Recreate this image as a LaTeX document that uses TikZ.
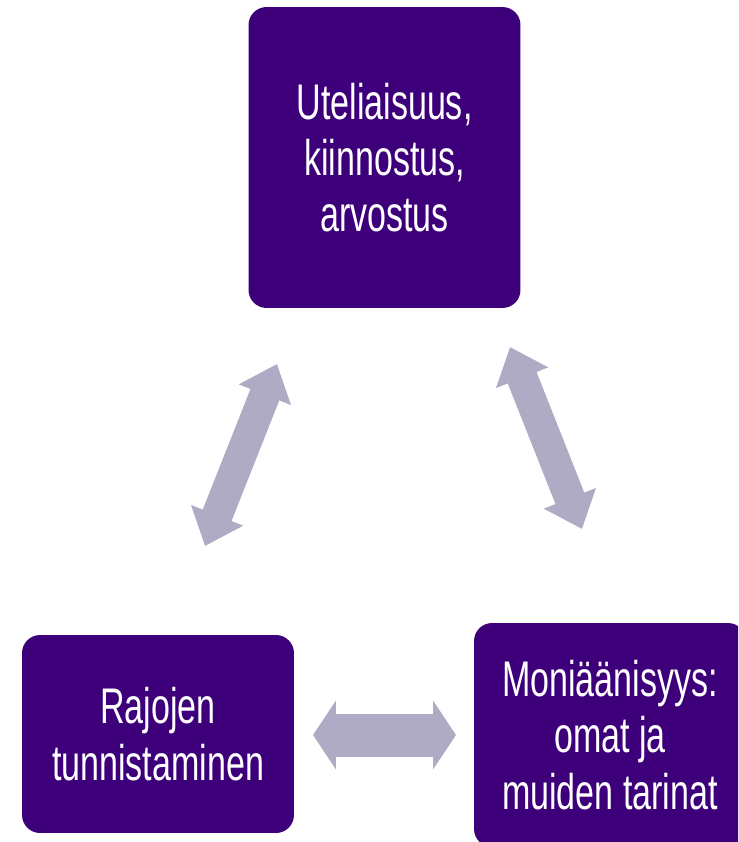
\documentclass[tikz,border=0pt]{standalone}
\usepackage{fontspec}
\setmainfont{Liberation Sans}[FakeStretch=0.68]
\usepackage{tikz}
\usetikzlibrary{arrows.meta}
\definecolor{boxpurple}{RGB}{61,0,122}
\definecolor{linkgray}{RGB}{175,171,196}

\begin{document}
\begin{tikzpicture}[
  x=0.02cm, y=-0.02cm,
  every node/.style={font=\fontsize{28.5}{32}\selectfont},
  box/.style={fill=boxpurple, text=white, rounded corners=0.36cm, align=center,
              minimum width=5.44cm, minimum height=#1, inner sep=0pt},
  link/.style={draw=linkgray, line width=#1, line cap=butt},
  diag/.style={link=0.62cm, {Triangle[length=0.66cm,width=1.08cm]}-{Triangle[length=0.66cm,width=1.08cm]}},
  flat/.style={link=0.86cm, {Triangle[length=0.46cm,width=1.36cm]}-{Triangle[length=0.46cm,width=1.36cm]}}
]
\clip (0,0) rectangle (738,842);
\node[box=6.02cm] (top)   at (384.5,157.5) {Uteliaisuus,\\kiinnostus,\\arvostus};
\node[box=3.96cm] (left)  at (158,734)     {Rajojen\\tunnistaminen};
\node[box=4.48cm] (right) at (610,735)     {Moniäänisyys:\\omat ja\\muiden tarinat};
% arrow ends
\coordinate (tl) at (277,364);
\coordinate (lt) at (205,546);
\coordinate (tr) at (510,347);
\coordinate (rt) at (582,529);
\coordinate (lr) at (313,735);
\coordinate (rl) at (456,735);
\foreach \from/\to in {tl/lt, tr/rt}
  \draw[diag] (\from) -- (\to);
\draw[flat] (lr) -- (rl);
\end{tikzpicture}
\end{document}
